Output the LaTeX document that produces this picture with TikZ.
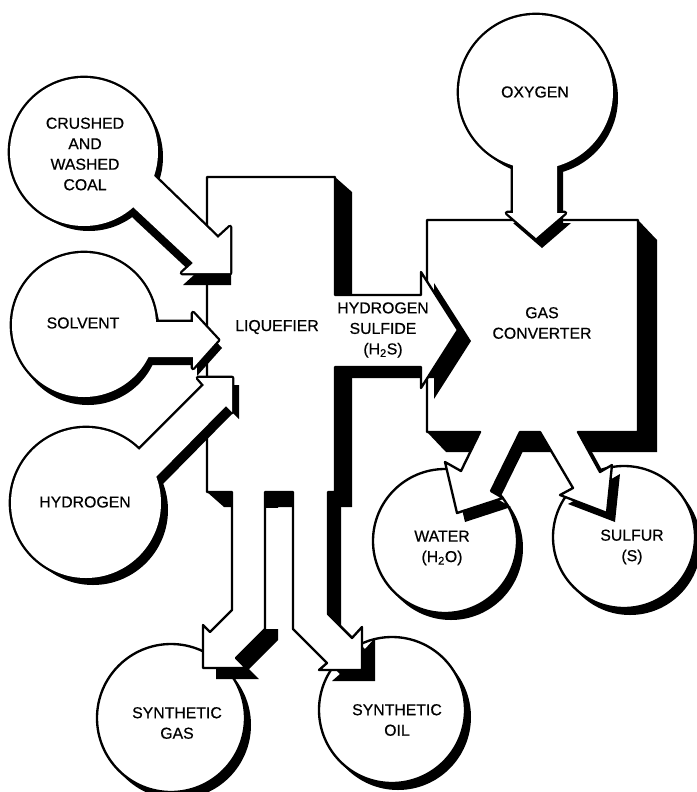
\documentclass[tikz,border=0pt]{standalone}
\usepackage{fontspec}
\setmainfont{Liberation Sans}
\newfontfamily\plantextfont{Liberation Sans}[FakeBold=0.6]

\tikzset{
  shadow/.style={fill=black},
  rim/.style={draw=black, line width=4pt, line join=round},
  face/.style={fill=white},
  boxline/.style={draw=black, fill=white, line width=2pt, line join=round},
  plantext/.style={font=\plantextfont\fontsize{13.5}{17.5}\selectfont, align=center, inner sep=0pt}
}

% solid with a drop shadow
\newcommand\solidshape[2]{%
  \fill[shadow, shift={#1}] #2;
  \filldraw[boxline] #2;
}
% round tank with stem and arrow head, drop shadows, one outline round both
\newcommand\flowshape[4]{%
  \fill[shadow, shift={#1}] #2;
  \fill[shadow, shift={#3}] #4;
  \draw[rim] #2;
  \draw[rim] #4;
  \fill[face] #2;
  \fill[face] #4;
}

\begin{document}
\begin{tikzpicture}[x=0.3mm, y=-0.3mm]
  \useasboundingbox (0,0) rectangle (697,792);

  % products
  \solidshape{(6,7)}{(171,718) circle[radius=74]}
  \solidshape{(6,7)}{(392,710) circle[radius=73]}
  \solidshape{(6,7)}{(445,541) circle[radius=72]}
  \solidshape{(6,7)}{(624,537) circle[radius=71]}

  % gas converter with its two outlets
  \fill[shadow] (427,220) -- (638,220) -- (657,240) -- (657,452) -- (446,452)
    -- (427,432) -- cycle;
  \fill[shadow, shift={(8,9)}] (480,432) -- (461,471) -- (445,462) -- (457,513)
    -- (503,498) -- (491,491) -- (520,432) -- cycle;
  \fill[shadow, shift={(8,9)}] (540,432) -- (573,488) -- (560,495) -- (607,513)
    -- (612,465) -- (600,472) -- (578,432) -- cycle;
  \filldraw[boxline] (427,220) -- (638,220) -- (638,432) -- (578,432)
    -- (600,472) -- (612,465) -- (607,513) -- (560,495) -- (573,488)
    -- (540,432) -- (520,432) -- (491,491) -- (503,498) -- (457,513)
    -- (445,462) -- (461,471) -- (480,432) -- (427,432) -- cycle;

  % liquefier, H2S arrow and the two outlets
  \fill[shadow] (207,177) -- (335,177) -- (352,192) -- (352,507) -- (224,507)
    -- (207,492) -- cycle;
  \fill[shadow, shift={(13,11)}] (335,295) -- (421,295) -- (421,272) -- (458,330)
    -- (421,388) -- (421,367) -- (335,367) -- cycle;
  \fill[shadow, shift={(13,11)}] (232,492) -- (232,610) -- (210,632) -- (203,625)
    -- (203,668) -- (246,668) -- (236,658) -- (265,629) -- (265,492) -- cycle;
  \fill[shadow, shift={(13,11)}] (293,492) -- (293,629) -- (327,663) -- (319,670)
    -- (362,670) -- (362,627) -- (352,638) -- (328,614) -- (328,492) -- cycle;
  \fill[white] (266,508) rectangle (292,629);
  \filldraw[boxline] (207,177) -- (335,177) -- (335,295) -- (421,295)
    -- (421,272) -- (458,330) -- (421,388) -- (421,367) -- (335,367)
    -- (335,492) -- (328,492) -- (328,614) -- (352,638) -- (362,627)
    -- (362,670) -- (319,670) -- (327,663) -- (293,629) -- (293,492)
    -- (265,492) -- (265,629) -- (236,658) -- (246,668) -- (203,668)
    -- (203,625) -- (210,632) -- (232,610) -- (232,492) -- (207,492) -- cycle;

  % feeds
  \flowshape{(5,5)}{(84,152) circle[radius=74]}
    {(1,12)}{(84,152) -- (153,175) -- (218,238) -- (230,227) -- (230,273)
     -- (182,273) -- (193,263) -- (133,207) -- cycle}
  \flowshape{(4,8)}{(84,325) circle[radius=72]}
    {(4,8)}{(84,322) -- (193,322) -- (193,313) -- (218,340) -- (193,368)
     -- (193,357) -- (84,357) -- cycle}
  \flowshape{(7,7)}{(86,503) circle[radius=75]}
    {(7,7)}{(86,503) -- (137,452) -- (204,385) -- (198,378) -- (232,378)
     -- (232,412) -- (226,406) -- (153,480) -- cycle}
  \flowshape{(5,6)}{(536,92) circle[radius=77]}
    {(6,10)}{(513,92) -- (513,213) -- (507,213) -- (536,238) -- (565,213)
     -- (557,213) -- (557,92) -- cycle}

  \node[plantext] (coal) at (85,154) {CRUSHED\\AND\\WASHED\\COAL};
  \node[plantext] (solvent) at (83,323) {SOLVENT};
  \node[plantext] (hydrogen) at (85,502) {HYDROGEN};
  \node[plantext] (oxygen) at (535,92) {OXYGEN};
  \node[plantext] (liquefier) at (277,327) {LIQUEFIER};
  \node[plantext] (sulfide) at (383,330) {HYDROGEN\\SULFIDE\\(H\textsubscript{2}S)};
  \node[plantext] (converter) at (542,323) {GAS\\CONVERTER};
  \node[plantext] (water) at (442,548) {WATER\\(H\textsubscript{2}O)};
  \node[plantext] (sulfur) at (632,547) {SULFUR\\(S)};
  \node[plantext] (synthgas) at (177,723) {SYNTHETIC\\GAS};
  \node[plantext] (synthoil) at (397,720) {SYNTHETIC\\OIL};
\end{tikzpicture}
\end{document}
